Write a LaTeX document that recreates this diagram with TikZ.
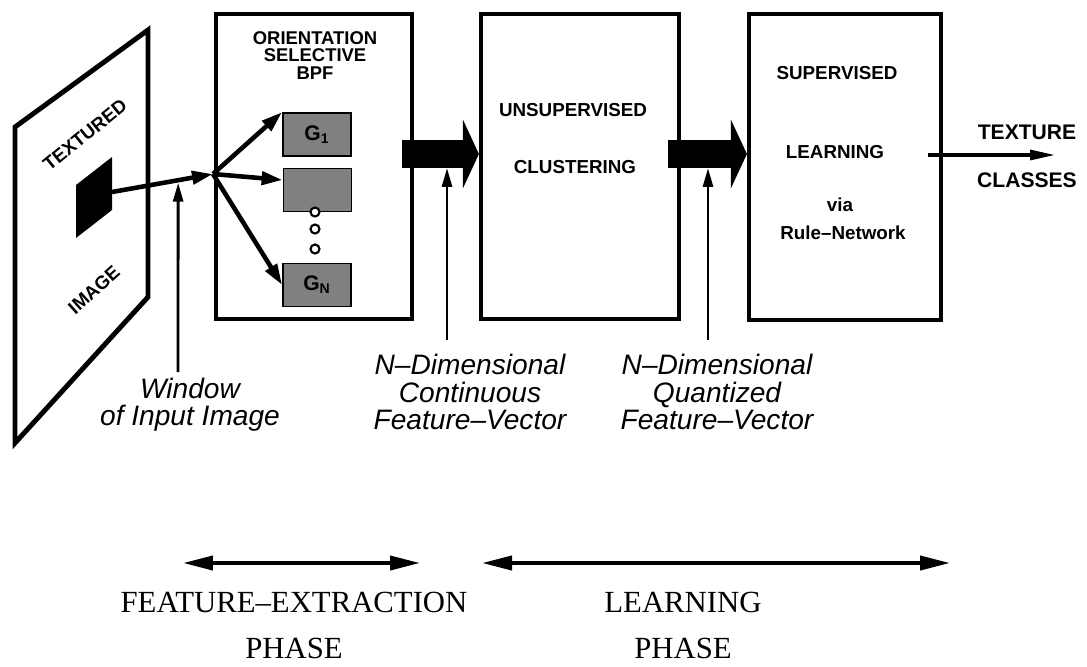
\documentclass[tikz,border=0pt]{standalone}
\usepackage{fontspec}
\setmainfont{Liberation Serif}
\setsansfont{Liberation Sans}
\usetikzlibrary{arrows.meta, calc, positioning}

\begin{document}
\begin{tikzpicture}[x=0.02cm, y=-0.02cm,
    block/.style={draw, line width=2.4pt, inner sep=0pt},
    blocktext/.style={font=\sffamily\bfseries\fontsize{10.7}{11}\selectfont, inner sep=0pt},
    filt/.style={draw, line width=1pt, fill=black!50, minimum width=1.36cm, minimum height=0.86cm, inner sep=0pt, font=\sffamily\bfseries\fontsize{12}{12}\selectfont},
    ring/.style={circle, draw, line width=1.2pt, fill=white, minimum size=0.18cm, inner sep=0pt},
    feed/.style={line width=2.6pt, -{Triangle[length=0.42cm, width=0.26cm]}},
    pointer/.style={line width=1.6pt, -{Triangle[length=0.38cm, width=0.2cm]}},
    fat/.style={line width=0.56cm, -{Triangle[length=0.32cm, width=1.36cm]}},
    note/.style={font=\sffamily\itshape\fontsize{16}{15.6}\selectfont, align=center, inner sep=0pt},
    phase/.style={line width=2.2pt, {Triangle[length=0.6cm, width=0.28cm]}-{Triangle[length=0.6cm, width=0.28cm]}},
    phasetext/.style={font=\fontsize{17.5}{26.2}\selectfont, align=center, inner sep=0pt}]

    \useasboundingbox (0,0) rectangle (1087,666);

    % textured input image
    \draw[line width=2.8pt, line join=miter] (15,127) -- (148,30) -- (148,297) -- (15,443) -- cycle;
    \fill (76,185) -- (112,157) -- (112,210) -- (76,238) -- cycle;
    \node[blocktext, rotate=39] (textured) at (85,135) {TEXTURED};
    \node[blocktext, rotate=42] (image) at (94,290) {IMAGE};
    \coordinate (win) at (112,192);
    \coordinate (jn) at (213,174);

    % the three stages
    \node[block, minimum width=3.92cm, minimum height=6.1cm] (bpf) at (314,166.5) {};
    \node[block, minimum width=3.96cm, minimum height=6.1cm] (clust) at (580,166.5) {};
    \node[block, minimum width=3.84cm, minimum height=6.12cm] (sup) at (845,167) {};

    \node[blocktext, align=center, font=\sffamily\bfseries\fontsize{10.5}{9.8}\selectfont] (bpftitle) at (315,55.5) {ORIENTATION\\SELECTIVE\\BPF};
    \node[filt] (g1) at (317,134.5) {G\textsubscript{1}};
    \node[filt] (gmid) at (317.5,190) {};
    \node[filt] (gn) at (317,285) {G\textsubscript{N}};
    \node[ring] (r1) at (315,212) {};
    \node[ring] (r2) at (315,229) {};
    \node[ring] (r3) at (315,249) {};

    \node[blocktext] (unsup) at (573,110) {UNSUPERVISED};
    \node[blocktext] (clustering) at (575,167) {CLUSTERING};

    \node[blocktext] (supervised) at (837,73) {SUPERVISED};
    \node[blocktext] (learning) at (835,152) {LEARNING};
    \node[blocktext] (via) at (840,205) {via};
    \node[blocktext] (rulenet) at (843,233) {Rule–Network};

    % feature path
    \draw[feed] (win) -- (jn);
    \draw[feed] (jn) -- (g1.north west);
    \draw[feed] (jn) -- ($(gmid.west)+(0,-10)$);
    \draw[feed] (jn) -- (gn.west);

    \coordinate (f1) at (402,154);
    \coordinate (f2) at (668,154);
    \draw[fat] (f1) -- (f1 -| clust.west);
    \draw[fat] (f2) -- (f2 -| sup.west);

    \coordinate (out) at (928,155);
    \draw[line width=1.8pt, -{Triangle[length=0.5cm, width=0.2cm]}] (out) -- ++(127,0);
    \node[blocktext, align=center, font=\sffamily\bfseries\fontsize{12}{27.3}\selectfont] (classes) at (1027,156) {TEXTURE\\CLASSES};

    % labels below
    \coordinate (wtail) at (178,372);
    \coordinate (c1tail) at (447,340);
    \coordinate (c2tail) at (708,340);
    \draw[pointer, shorten >=0.05cm] (wtail) -- ($(win)!0.655!(jn)$);
    \draw[pointer, shorten >=0.28cm] (c1tail) -- (c1tail |- f1);
    \draw[pointer, shorten >=0.28cm] (c2tail) -- (c2tail |- f2);

    \node[note] (wnote) at (190,405) {Window\\of Input Image};
    \node[note] (cnote) at (470,392) {N–Dimensional\\Continuous\\Feature–Vector};
    \node[note] (qnote) at (717,392) {N–Dimensional\\Quantized\\Feature–Vector};

    % phases
    \coordinate (fe-l) at (183,563);
    \coordinate (fe-r) at (420,563);
    \coordinate (le-l) at (482,563);
    \coordinate (le-r) at (950,563);
    \draw[phase] (fe-l) -- (fe-r);
    \draw[phase] (le-l) -- (le-r);
    \node[phasetext] (fephase) at (294,625) {FEATURE–EXTRACTION\\PHASE};
    \node[phasetext] (lphase) at (683,625) {LEARNING\\PHASE};

\end{tikzpicture}
\end{document}
